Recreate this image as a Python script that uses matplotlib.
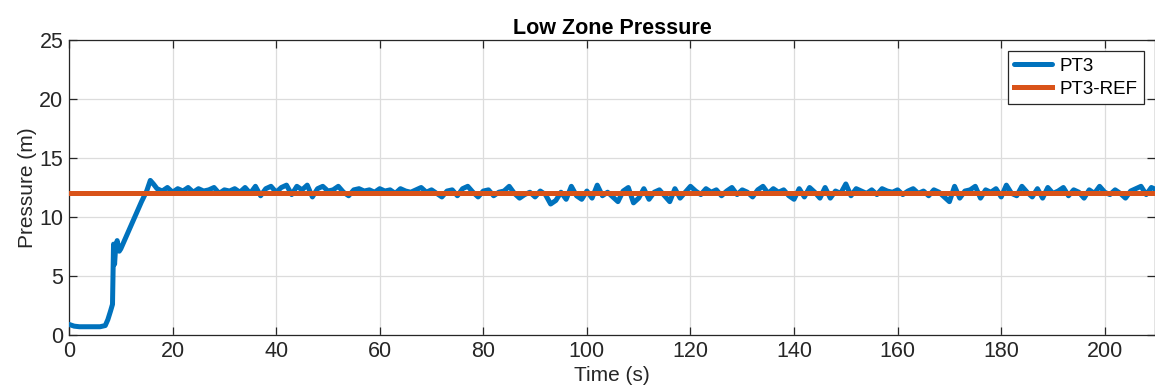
import numpy as np
import matplotlib.pyplot as plt

# ------------------------------------------------------------
# Data
# ------------------------------------------------------------
t_start = [0, 1, 2, 3, 4, 5, 6, 7, 7.5, 8, 8.4, 8.6, 8.8, 9.0, 9.3, 9.7,
           10, 11, 12, 13, 14, 15, 15.7, 16.3]
p_start = [0.9, 0.75, 0.7, 0.7, 0.7, 0.7, 0.7, 0.8, 1.3, 2.0, 2.6, 7.7, 6.0,
           7.4, 8.0, 7.1, 7.3, 8.3, 9.3, 10.3, 11.3, 12.2, 13.1, 12.8]

# steady part, one sample per second from t = 17 s to 210 s
t_steady = np.arange(17, 211)
p_steady = [
    12.4, 12.2, 12.5, 12.1, 12.4, 12.2, 12.5, 12.1, 12.4, 12.2,
    12.3, 12.5, 12.0, 12.3, 12.2, 12.4, 12.1, 12.5, 12.0, 12.6,
    11.8, 12.4, 12.6, 12.1, 12.5, 12.7, 11.9, 12.6, 12.3, 12.7,
    11.7, 12.4, 12.6, 12.2, 12.3, 12.6, 12.1, 11.8, 12.3, 12.4,
    12.2, 12.3, 12.1, 12.4, 12.2, 12.3, 12.0, 12.4, 12.2, 12.1,
    12.3, 12.5, 12.1, 12.3, 12.0, 11.7, 12.2, 12.3, 11.8, 12.4,
    12.6, 12.1, 11.7, 12.2, 12.3, 11.8, 12.1, 12.2, 12.6, 12.0,
    11.6, 11.9, 12.1, 11.7, 12.2, 11.9, 11.1, 11.4, 12.1, 11.5,
    12.6, 11.8, 11.5, 12.2, 11.6, 12.7, 11.8, 12.1, 11.7, 11.3,
    12.2, 12.5, 11.2, 11.6, 12.4, 11.5, 12.1, 12.3, 11.8, 11.3,
    12.4, 11.6, 12.1, 12.6, 12.2, 11.9, 12.4, 12.1, 12.3, 11.8,
    12.2, 12.5, 11.9, 12.3, 12.1, 11.7, 12.3, 12.6, 12.0, 12.4,
    12.1, 12.3, 11.8, 11.5, 12.4, 11.7, 12.5, 12.1, 11.6, 12.5,
    11.6, 12.2, 12.0, 12.8, 11.8, 12.4, 12.2, 12.0, 12.3, 11.9,
    12.4, 12.2, 12.1, 12.3, 11.9, 12.2, 12.4, 12.0, 12.2, 11.8,
    12.3, 12.1, 11.7, 11.3, 12.6, 11.6, 12.2, 12.3, 12.6, 11.6,
    12.3, 12.1, 12.4, 11.7, 12.7, 12.0, 11.8, 12.6, 12.1, 11.7,
    12.4, 11.6, 12.5, 12.0, 12.2, 12.5, 11.8, 12.3, 12.1, 11.6,
    12.3, 12.0, 12.6, 12.1, 11.9, 12.3, 12.0, 11.6, 12.2, 12.4,
    12.6, 11.9, 12.5, 12.3,
]

time = np.concatenate([t_start, t_steady])
pt3 = np.concatenate([p_start, p_steady])
pt3_ref = 12.0

# ------------------------------------------------------------
# Plot
# ------------------------------------------------------------
plt.rcParams['font.family'] = ['Liberation Sans', 'DejaVu Sans']

fig = plt.figure(figsize=(11.55, 3.92), dpi=100)
ax = fig.add_axes([69 / 1155, 1 - 335 / 392, 1 - 69 / 1155, (335 - 40) / 392])

ax.plot(time, pt3, color='#0072BD', lw=3.6, label='PT3', zorder=3,
        solid_joinstyle='round', solid_capstyle='round')
ax.axhline(pt3_ref, color='#D95319', lw=3.6, label='PT3-REF', zorder=4)

ax.set_xlim(0, 209.7)
ax.set_ylim(0, 25)
ax.set_xticks(np.arange(0, 201, 20))
ax.set_yticks(np.arange(0, 26, 5))

ax.grid(True, color='#dcdcdc', lw=0.9)
ax.set_axisbelow(True)
ax.tick_params(direction='in', top=True, right=True, length=6, width=0.9,
               labelsize=15.5, colors='#262626', pad=4)
for s in ax.spines.values():
    s.set_color('#262626')
    s.set_linewidth(0.9)

ax.set_xlabel('Time (s)', fontsize=15, color='#262626', labelpad=3)
ax.set_ylabel('Pressure (m)', fontsize=15, color='#262626', labelpad=2)
ax.set_title('Low Zone Pressure', fontsize=15.5, fontweight='bold', pad=4)

leg = ax.legend(loc='upper right', fontsize=13.5, fancybox=False,
                edgecolor='#262626', framealpha=1, handlelength=2.0,
                borderaxespad=0.6, labelspacing=0.3, borderpad=0.35,
                handletextpad=0.4, bbox_to_anchor=(1.0, 1.0))
leg.get_frame().set_linewidth(0.9)

plt.savefig('out.png', dpi=100)
plt.close()
